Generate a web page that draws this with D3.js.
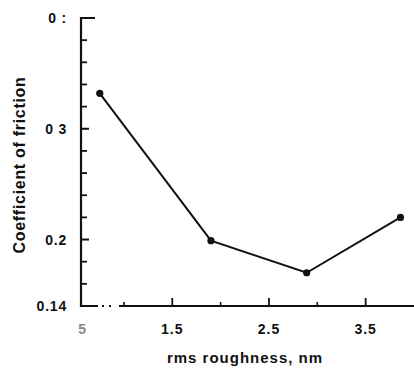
<!DOCTYPE html>
<html>
<head>
<meta charset="utf-8">
<script src="https://cdn.jsdelivr.net/npm/d3@7"></script>
<style>
  html, body { margin: 0; padding: 0; background: #fff; }
  svg { display: block; }
  text { font-family: "Liberation Sans", Arial, sans-serif; fill: #111; font-weight: bold; }
</style>
</head>
<body>
<svg id="chart" width="414" height="368"></svg>
<script>
// Data
const roughness = [0.75, 1.9, 2.89, 3.86];
const friction = [0.332, 0.199, 0.170, 0.220];

const xMajorTicks = [0.5, 1.5, 2.5, 3.5];
const xMajorLabels = ["5", "1.5", "2.5", "3.5"];
const xMinorTicks = [1.0, 2.0, 3.0];
const yMajorTicks = [0.4, 0.3, 0.2, 0.14];
const yMajorLabels = ["0 :", "0 3", "0.2", "0.14"];
const yMinorTicks = [0.32, 0.34, 0.36, 0.38, 0.22, 0.24, 0.26, 0.28, 0.16, 0.18];

const xTitle = "rms roughness, nm";
const yTitle = "Coefficient of friction";

const svg = d3.select("#chart");
const x = d3.scaleLinear().domain([0.556, 4.0]).range([81, 414]);
const y = d3.scaleLinear().domain([0.14, 0.4]).range([306, 18]);

const ink = "#111";

// Y axis line
svg.append("line")
  .attr("x1", x(0.556)).attr("x2", x(0.556))
  .attr("y1", y(0.4) - 1).attr("y2", y(0.14) + 1)
  .attr("stroke", ink).attr("stroke-width", 2.2);

// X axis line (scan has a small break near the left)
svg.append("line")
  .attr("x1", x(0.556)).attr("x2", 414)
  .attr("y1", y(0.14)).attr("y2", y(0.14))
  .attr("stroke", ink).attr("stroke-width", 2.2)
  .attr("stroke-dasharray", "17,4,2,5,2,8,1000");

// Y ticks (inward)
svg.selectAll(".ymaj").data(yMajorTicks).enter().append("line")
  .attr("x1", x(0.556)).attr("x2", (d, i) => x(0.556) + (i === 0 ? 14 : 8))
  .attr("y1", d => y(d)).attr("y2", d => y(d))
  .attr("stroke", ink).attr("stroke-width", 2);
svg.selectAll(".ymin").data(yMinorTicks).enter().append("line")
  .attr("x1", x(0.556)).attr("x2", x(0.556) + 6)
  .attr("y1", d => y(d)).attr("y2", d => y(d))
  .attr("stroke", ink).attr("stroke-width", 1.8);

// Y labels
svg.selectAll(".ylab").data(yMajorTicks).enter().append("text")
  .attr("x", 67).attr("y", d => y(d) + 5)
  .attr("text-anchor", "end").attr("font-size", 14)
  .attr("letter-spacing", 0.8)
  .text((d, i) => yMajorLabels[i]);

// X ticks (inward)
svg.selectAll(".xmaj").data(xMajorTicks.slice(1)).enter().append("line")
  .attr("x1", d => x(d)).attr("x2", d => x(d))
  .attr("y1", y(0.14)).attr("y2", y(0.14) - 8)
  .attr("stroke", ink).attr("stroke-width", 1.8);
svg.selectAll(".xmin").data(xMinorTicks).enter().append("line")
  .attr("x1", d => x(d)).attr("x2", d => x(d))
  .attr("y1", y(0.14)).attr("y2", y(0.14) - 4)
  .attr("stroke", ink).attr("stroke-width", 1.6);

// X labels
svg.selectAll(".xlab").data(xMajorTicks).enter().append("text")
  .attr("x", (d, i) => x(d) + (i === 0 ? 7 : 0)).attr("y", 334)
  .attr("text-anchor", "middle").attr("font-size", 14)
  .attr("letter-spacing", 1)
  .style("fill", (d, i) => i === 0 ? "#888" : ink)
  .text((d, i) => xMajorLabels[i]);

// Titles
svg.append("text")
  .attr("x", 245).attr("y", 363)
  .attr("text-anchor", "middle").attr("font-size", 15)
  .attr("letter-spacing", 1)
  .text(xTitle);
svg.append("text")
  .attr("transform", "translate(25,165) rotate(-90)")
  .attr("text-anchor", "middle").attr("font-size", 16)
  .attr("letter-spacing", 0.7)
  .text(yTitle);

// Series line and points
const pts = roughness.map((r, i) => [r, friction[i]]);
svg.append("path")
  .datum(pts)
  .attr("d", d3.line().x(d => x(d[0])).y(d => y(d[1])))
  .attr("fill", "none").attr("stroke", ink).attr("stroke-width", 2);
svg.selectAll(".pt").data(pts).enter().append("circle")
  .attr("cx", d => x(d[0])).attr("cy", d => y(d[1]))
  .attr("r", 3.6).attr("fill", ink);
</script>
</body>
</html>
